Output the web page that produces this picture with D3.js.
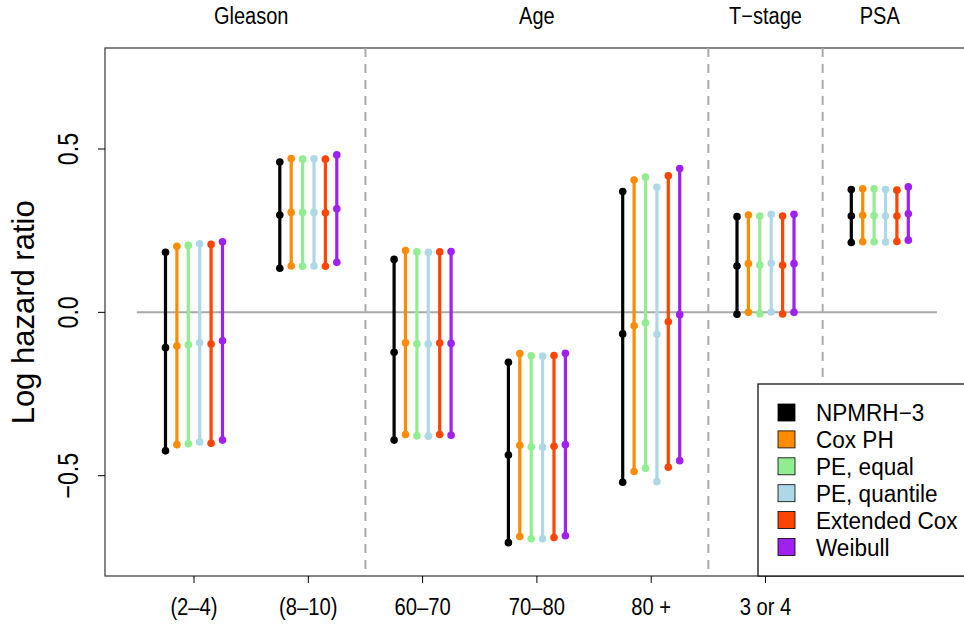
<!DOCTYPE html>
<html>
<head>
<meta charset="utf-8">
<script src="https://cdn.jsdelivr.net/npm/d3@7/dist/d3.min.js"></script>
<style>
  html, body { margin: 0; padding: 0; background: #fff; }
  svg { display: block; font-family: "Liberation Sans", Arial, Helvetica, sans-serif; }
</style>
</head>
<body>
<svg id="chart" width="964" height="624"></svg>
<script>
// ---- data ----
const categories = ["(2–4)", "(8–10)", "60–70", "70–80", "80 +", "3 or 4", "PSA"];
const tickLabels = ["(2–4)", "(8–10)", "60–70", "70–80", "80 +", "3 or 4"];
const groupNames = ["Gleason", "Age", "T−stage", "PSA"];
const groupFirst = [0, 2, 5, 6];
const groupLast  = [1, 4, 5, 6];
const seriesNames = ["NPMRH−3", "Cox PH", "PE, equal", "PE, quantile", "Extended Cox", "Weibull"];
const seriesColors = ["#000000", "#ff8c00", "#90ee90", "#add8e6", "#ff4500", "#a020f0"];
const yTicks = [-0.5, 0, 0.5];
// each entry: [lower, estimate, upper] per category
const npmrh = [[-0.424, -0.108, 0.184], [0.135, 0.298, 0.460], [-0.391, -0.122, 0.162], [-0.705, -0.437, -0.153], [-0.520, -0.066, 0.370], [-0.006, 0.142, 0.293], [0.214, 0.295, 0.376]];
const coxPH = [[-0.405, -0.103, 0.202], [0.142, 0.306, 0.471], [-0.374, -0.093, 0.189], [-0.686, -0.407, -0.126], [-0.487, -0.041, 0.405], [0.000, 0.149, 0.298], [0.216, 0.297, 0.378]];
const peEqual = [[-0.402, -0.099, 0.205], [0.141, 0.306, 0.469], [-0.378, -0.096, 0.185], [-0.693, -0.412, -0.133], [-0.477, -0.032, 0.414], [-0.004, 0.145, 0.295], [0.216, 0.296, 0.378]];
const peQuantile = [[-0.397, -0.093, 0.210], [0.142, 0.306, 0.470], [-0.379, -0.097, 0.184], [-0.693, -0.413, -0.134], [-0.518, -0.067, 0.383], [0.001, 0.150, 0.300], [0.215, 0.295, 0.376]];
const extCox = [[-0.401, -0.097, 0.208], [0.141, 0.305, 0.469], [-0.374, -0.094, 0.185], [-0.689, -0.410, -0.132], [-0.474, -0.029, 0.418], [-0.005, 0.144, 0.295], [0.217, 0.295, 0.374]];
const weibull = [[-0.391, -0.087, 0.216], [0.153, 0.317, 0.482], [-0.376, -0.095, 0.186], [-0.684, -0.405, -0.125], [-0.454, -0.007, 0.440], [0.000, 0.149, 0.300], [0.221, 0.302, 0.384]];
const seriesData = [npmrh, coxPH, peEqual, peQuantile, extCox, weibull];

// ---- helpers ----
function squeeze(sel, f) {
  sel.each(function () {
    const n = this.getComputedTextLength();
    d3.select(this).attr("textLength", n * f).attr("lengthAdjust", "spacingAndGlyphs");
  });
}

// ---- layout ----
const svg = d3.select("#chart");
const plot = { left: 105, top: 48, bottom: 576, right: 975 };
const x = d3.scaleLinear().domain([0, 6]).range([194, 879.8]);
const y = d3.scaleLinear().domain([-0.5, 0.5]).range([475.7, 149]);
const off = d3.scaleLinear().domain([0, 5]).range([-28.5, 28.5]);

// box
svg.append("rect")
  .attr("x", plot.left).attr("y", plot.top)
  .attr("width", plot.right - plot.left).attr("height", plot.bottom - plot.top)
  .attr("fill", "none").attr("stroke", "#333").attr("stroke-width", 1.2);

// dashed separators
const seps = [1.5, 4.5, 5.5];
svg.selectAll("line.sep").data(seps).enter().append("line")
  .attr("class", "sep")
  .attr("x1", d => x(d)).attr("x2", d => x(d))
  .attr("y1", plot.top).attr("y2", plot.bottom)
  .attr("stroke", "#aaaaaa").attr("stroke-width", 2)
  .attr("stroke-dasharray", "9,7");

// zero line
svg.append("line")
  .attr("x1", x(-0.5)).attr("x2", x(6.5))
  .attr("y1", y(0)).attr("y2", y(0))
  .attr("stroke", "#a9a9a9").attr("stroke-width", 2);

// bars
seriesData.forEach((ser, j) => {
  const g = svg.append("g");
  ser.forEach((v, i) => {
    const cx = x(i) + off(j);
    g.append("line")
      .attr("x1", cx).attr("x2", cx)
      .attr("y1", y(v[0])).attr("y2", y(v[2]))
      .attr("stroke", seriesColors[j]).attr("stroke-width", 3.2);
    v.forEach(val => {
      g.append("circle").attr("cx", cx).attr("cy", y(val)).attr("r", 3.8)
        .attr("fill", seriesColors[j]);
    });
  });
});

// y axis
const yAxis = svg.append("g").attr("transform", `translate(${plot.left},0)`);
yAxis.selectAll("line.tick").data(yTicks).enter().append("line")
  .attr("x1", -7).attr("x2", 0)
  .attr("y1", d => y(d)).attr("y2", d => y(d))
  .attr("stroke", "#000").attr("stroke-width", 1);
const fmt = d3.format(".1f");
const yt = yAxis.selectAll("text.tl").data(yTicks).enter().append("text")
  .attr("transform", d => `translate(-27,${y(d)}) rotate(-90)`)
  .attr("text-anchor", "middle")
  .attr("font-size", 29)
  .text(d => fmt(d));
squeeze(yt, 0.8);

svg.append("text")
  .attr("transform", `translate(34,${y(0)}) rotate(-90)`)
  .attr("text-anchor", "middle")
  .attr("font-size", 31)
  .text("Log hazard ratio");

// x axis ticks
const xt = svg.append("g");
xt.selectAll("line").data(tickLabels).enter().append("line")
  .attr("x1", (d, i) => x(i)).attr("x2", (d, i) => x(i))
  .attr("y1", plot.bottom).attr("y2", plot.bottom + 7)
  .attr("stroke", "#000").attr("stroke-width", 1);
const xtl = xt.selectAll("text").data(tickLabels).enter().append("text")
  .attr("x", (d, i) => x(i)).attr("y", 615)
  .attr("text-anchor", "middle").attr("font-size", 23.5)
  .text(d => d);
squeeze(xtl, 0.86);

// group labels
const gl = svg.selectAll("text.grp").data(groupNames).enter().append("text")
  .attr("class", "grp")
  .attr("x", (d, k) => x((groupFirst[k] + groupLast[k]) / 2))
  .attr("y", 24)
  .attr("text-anchor", "middle").attr("font-size", 23)
  .text(d => d);
squeeze(gl, 0.87);

// legend
const lg = svg.append("g").attr("transform", "translate(758,384)");
lg.append("rect").attr("x", 0).attr("y", 0).attr("width", 230).attr("height", 192)
  .attr("fill", "#fff").attr("stroke", "#000").attr("stroke-width", 1.2);
seriesNames.forEach((name, j) => {
  const cy = 28.5 + j * 26.9;
  lg.append("rect").attr("x", 20).attr("y", cy - 8.5).attr("width", 17).attr("height", 17)
    .attr("fill", seriesColors[j]).attr("stroke", "#000").attr("stroke-width", 0.8);
  const t = lg.append("text").attr("x", 58).attr("y", cy + 8.5)
    .attr("font-size", 23).text(name);
  squeeze(t, 0.98);
});
</script>
</body>
</html>
